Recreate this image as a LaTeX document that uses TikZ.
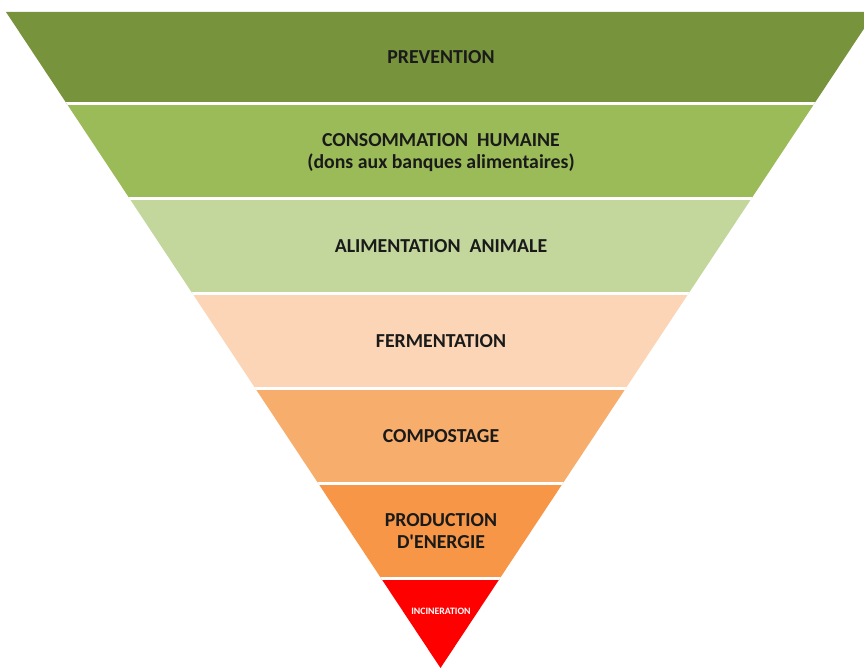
\documentclass[tikz,border=0pt]{standalone}
\usepackage{fontspec}
\setmainfont{Carlito}
\definecolor{cA}{HTML}{77933C}
\definecolor{cB}{HTML}{9BBB59}
\definecolor{cC}{HTML}{C3D69B}
\definecolor{cD}{HTML}{FBD5B5}
\definecolor{cE}{HTML}{F7AE6C}
\definecolor{cF}{HTML}{F79646}
\definecolor{cG}{HTML}{FF0000}
\definecolor{txt}{HTML}{1A1A1A}
\tikzset{
  lbl/.style={font=\fontsize{19.8}{22}\selectfont\bfseries, text=txt, align=center, inner sep=0pt},
  small/.style={font=\fontsize{9.8}{11}\selectfont\bfseries, text=white, align=center, inner sep=0pt},
  sep/.style={white, line width=3pt}
}
\begin{document}
\begin{tikzpicture}[x=1pt,y=-1pt]
\useasboundingbox (0,0) rectangle (864,668);
\begin{scope}
\clip (6,12) -- (875,12) -- (440.5,668) -- cycle;
\fill[cA] (0,0) rectangle (900,104);
\fill[cB] (0,104) rectangle (900,198.5);
\fill[cC] (0,198.5) rectangle (900,293.5);
\fill[cD] (0,293.5) rectangle (900,388.5);
\fill[cE] (0,388.5) rectangle (900,483.5);
\fill[cF] (0,483.5) rectangle (900,578.5);
\fill[cG] (0,578.5) rectangle (900,700);
\foreach \yy in {104,198.5,293.5,388.5,483.5,578.5}
  \draw[sep] (0,\yy) -- (900,\yy);
\end{scope}
\node[lbl] (prev) at (441,57) {PREVENTION};
\node[lbl] (cons) at (441,153) {CONSOMMATION\ \ HUMAINE\\(dons aux banques alimentaires)};
\node[lbl] (alim) at (441,246) {ALIMENTATION\ \ ANIMALE};
\node[lbl] (ferm) at (441,341) {FERMENTATION};
\node[lbl] (comp) at (441,436) {COMPOSTAGE};
\node[lbl] (prod) at (441,531) {PRODUCTION\\D\textquotesingle ENERGIE};
\node[small] (inc) at (441,611) {INCINERATION};
\end{tikzpicture}
\end{document}
